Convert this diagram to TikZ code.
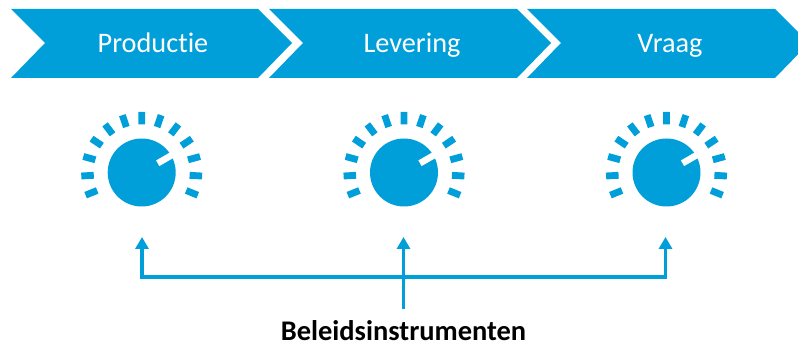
\documentclass[tikz,border=0pt]{standalone}
\usepackage{fontspec}
\setmainfont[Ligatures=NoCommon]{Carlito}
\usetikzlibrary{arrows.meta}

\definecolor{dialblue}{HTML}{009FDA}

\tikzset{
    chevron/.style={fill=dialblue, draw=none},
    steplabel/.style={text=white, font=\fontsize{16.1}{18}\selectfont, anchor=base},
    ticksign/.style={draw=dialblue, line width=3.9pt},
    pointer/.style={draw=white, line width=3.7pt},
    linkline/.style={draw=dialblue, line width=1.95pt},
    linkarrow/.style={linkline, -{Triangle[length=6.8pt, width=7.4pt]}},
}

\begin{document}
\begin{tikzpicture}[x=0.02cm, y=0.02cm]

    % Fix the page to the size of the reference
    \useasboundingbox (0,0) rectangle (798,345);
    \clip (0,0) rectangle (798,345);

    % Draw the three chevrons
    \fill[chevron] (11,336) -- (258,336) -- (292,302) -- (258,267) -- (11,267) -- (45,302) -- cycle;
    \fill[chevron] (269,336) -- (517,336) -- (551,302) -- (517,267) -- (269,267) -- (303,302) -- cycle;
    \fill[chevron] (527,336) -- (775,336) -- (809,302) -- (775,267) -- (527,267) -- (561,302) -- cycle;

    % Labels of the chevrons
    \node[steplabel] (productie) at (153,292) {Productie};
    \node[steplabel] (levering) at (412,292) {Levering};
    \node[steplabel] (vraag) at (670,292) {Vraag};

    % --- DIALS ---
    \foreach \name/\cx in {dialA/141.7, dialB/404, dialC/666.5} {
        \coordinate (\name) at (\cx,172.5);
        \fill[dialblue] (\name) circle (34);
        \draw[pointer] (\name) ++(30:18.5) -- ++(30:17);
        % Scale marks round the knob
        \foreach \i in {0,...,12} {
            \draw[ticksign] (\name) ++({202-\i*18.67}:48) -- ++({202-\i*18.67}:12.5);
        }
    }

    % Caption below the arrows
    \node[font=\fontsize{16.2}{18}\selectfont\bfseries, anchor=base] (instr) at (403.5,5) {Beleidsinstrumenten};

    % Points where the lines start and end
    \coordinate (stem) at (403.5,36);
    \coordinate (join) at (403.5,68);
    \coordinate (cornerA) at (142,68);
    \coordinate (cornerC) at (665.5,68);
    \coordinate (tipA) at (142,108);
    \coordinate (tipB) at (403.5,108);
    \coordinate (tipC) at (665.5,108);

    % Draw the connecting lines
    \draw[linkarrow] (stem) -- (tipB);
    \draw[linkarrow] (join) -- (cornerA) -- (tipA);
    \draw[linkarrow] (join) -- (cornerC) -- (tipC);

\end{tikzpicture}
\end{document}
